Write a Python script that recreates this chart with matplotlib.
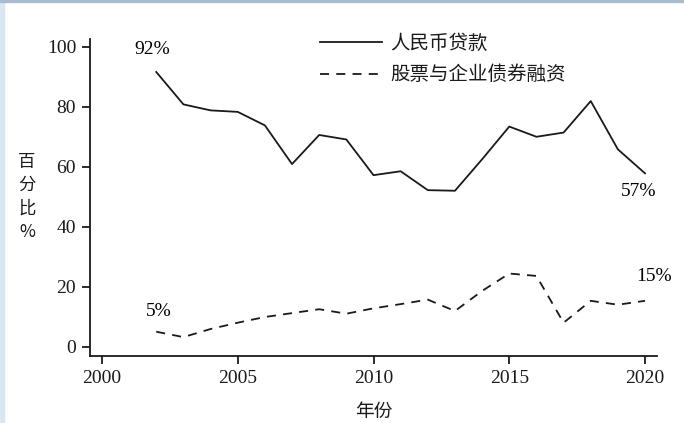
import matplotlib.pyplot as plt
from matplotlib.patches import Rectangle

years = list(range(2002, 2021))
loans = [91.6, 80.8, 78.8, 78.3, 73.8, 60.9, 70.6, 69.1, 57.2, 58.5,
         52.2, 52.0, 62.5, 73.4, 70.0, 71.4, 81.9, 65.8, 57.8]
equity_bonds = [5.0, 3.2, 5.9, 8.0, 9.9, 11.2, 12.5, 11.0, 12.8, 14.2,
                15.7, 11.9, 18.6, 24.4, 23.6, 8.0, 15.3, 14.0, 15.3]
xticks = [2000, 2005, 2010, 2015, 2020]
yticks = [0, 20, 40, 60, 80, 100]

serif = ['Liberation Serif', 'DejaVu Serif']
cjk = ['Noto Sans CJK SC', 'DejaVu Sans']

plt.rcParams['font.family'] = serif

fig = plt.figure(figsize=(6.84, 4.23), dpi=100)
ax = fig.add_axes([90 / 684, 1 - 356 / 423, (657 - 90) / 684, (356 - 39) / 423])

ax.plot(years, loans, color='#1a1a1a', lw=1.3, label='人民币贷款')
ax.plot(years, equity_bonds, color='#1a1a1a', lw=1.3, ls=(0, (5, 4)),
        label='股票与企业债券融资')

ax.set_xlim(1999.56, 2020.44)
ax.set_ylim(-3.1, 102.6)
ax.set_xticks(xticks)
ax.set_yticks(yticks)
ax.tick_params(direction='out', length=6, width=1.3, labelsize=14, pad=4,
               color='#1a1a1a', labelcolor='#1a1a1a')
for s in ['top', 'right']:
    ax.spines[s].set_visible(False)
for s in ['left', 'bottom']:
    ax.spines[s].set_linewidth(1.3)
    ax.spines[s].set_color('#1a1a1a')

# end-point annotations
ax.text(years[0] - 0.16, loans[0] + 7.6, '92%', fontsize=14, ha='center', va='center')
ax.text(years[-1] - 0.24, loans[-1] - 6.1, '57%', fontsize=14, ha='center', va='center')
ax.text(years[0] + 0.1, equity_bonds[0] + 6.9, '5%', fontsize=14, ha='center', va='center')
ax.text(years[-1] + 0.32, equity_bonds[-1] + 8.0, '15%', fontsize=14, ha='center', va='center')

ax.set_xlabel('年份', family=cjk, fontsize=13.5, labelpad=10, color='#1a1a1a')
fig.text(27 / 684, 1 - 197 / 423, '百\n分\n比\n%', family=cjk, fontsize=12.5,
         ha='center', va='center', linespacing=1.4, color='#1a1a1a')

leg = ax.legend(loc='upper left', bbox_to_anchor=(0.375, 1.075), frameon=False,
                prop={'family': cjk, 'size': 14}, handlelength=3.2,
                handletextpad=0.4, labelspacing=0.55)
for t in leg.get_texts():
    t.set_color('#1a1a1a')

# light frame of the original picture
fig.patches.append(Rectangle((0, 0), 4 / 684, 1, transform=fig.transFigure,
                             color='#d8e7f1', zorder=0))
fig.patches.append(Rectangle((0, 1 - 2 / 423), 1, 2 / 423, transform=fig.transFigure,
                             color='#a9bccd', zorder=0))

fig.savefig('out.png', dpi=100)
